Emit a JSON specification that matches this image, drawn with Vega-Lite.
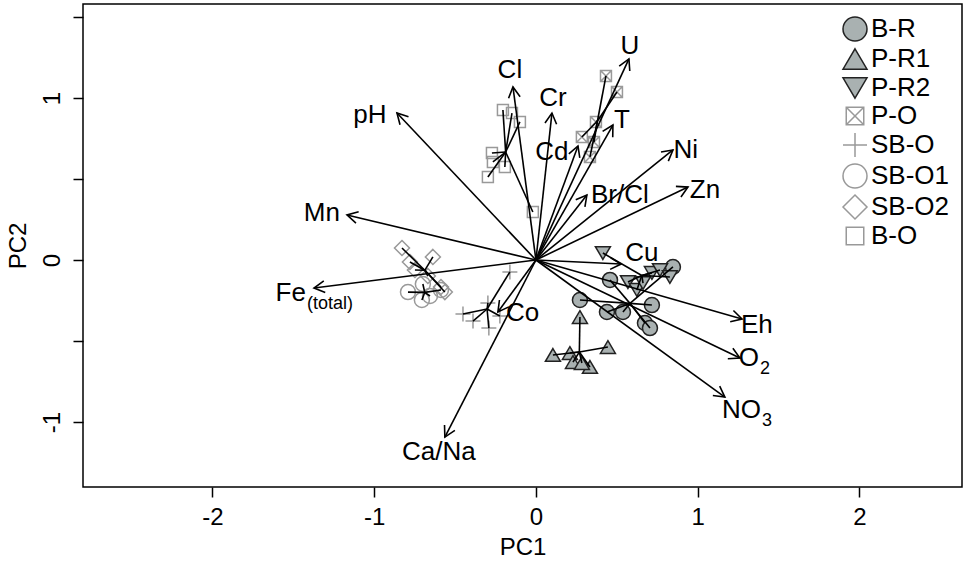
{
  "$schema": "https://vega.github.io/schema/vega-lite/v6.json",
  "width": 879,
  "height": 483,
  "autosize": {"type": "none"},
  "padding": {"left": 83, "top": 4, "right": 13, "bottom": 81},
  "background": "white",
  "config": {
    "font": "Liberation Sans",
    "view": {"stroke": "black", "strokeWidth": 1.5},
    "axis": {"domain": false, "grid": false, "ticks": true, "tickColor": "black", "tickWidth": 1.5, "tickSize": 10,
             "labelColor": "black", "labelFontSize": 24, "labelFont": "Liberation Sans", "titleColor": "black",
             "titleFontSize": 24, "titleFont": "Liberation Sans", "titleFontWeight": "normal", "labelOverlap": false},
    "legend": {"orient": "top-right", "offset": 12, "padding": 0, "labelFontSize": 26, "labelFont": "Liberation Sans",
               "labelColor": "black", "symbolSize": 576, "symbolStrokeWidth": 1.5, "rowPadding": 1, "labelOffset": 3,
               "title": null}
  },
  "datasets": {
    "samples": [
      {"group": "B-R", "x": 0.458, "y": -0.123}, {"group": "B-R", "x": 0.272, "y": -0.247},
      {"group": "B-R", "x": 0.439, "y": -0.321}, {"group": "B-R", "x": 0.538, "y": -0.321},
      {"group": "B-R", "x": 0.717, "y": -0.278}, {"group": "B-R", "x": 0.674, "y": -0.389},
      {"group": "B-R", "x": 0.705, "y": -0.420}, {"group": "B-R", "x": 0.847, "y": -0.043},
      {"group": "P-R1", "x": 0.272, "y": -0.352}, {"group": "P-R1", "x": 0.445, "y": -0.537},
      {"group": "P-R1", "x": 0.105, "y": -0.586}, {"group": "P-R1", "x": 0.210, "y": -0.574},
      {"group": "P-R1", "x": 0.229, "y": -0.630}, {"group": "P-R1", "x": 0.334, "y": -0.660},
      {"group": "P-R1", "x": 0.284, "y": -0.636},
      {"group": "P-R2", "x": 0.414, "y": 0.043}, {"group": "P-R2", "x": 0.569, "y": -0.136},
      {"group": "P-R2", "x": 0.624, "y": -0.185}, {"group": "P-R2", "x": 0.662, "y": -0.142},
      {"group": "P-R2", "x": 0.717, "y": -0.080}, {"group": "P-R2", "x": 0.767, "y": -0.062},
      {"group": "P-R2", "x": 0.828, "y": -0.105},
      {"group": "P-O", "x": 0.433, "y": 1.136}, {"group": "P-O", "x": 0.501, "y": 1.037},
      {"group": "P-O", "x": 0.371, "y": 0.852}, {"group": "P-O", "x": 0.284, "y": 0.759},
      {"group": "P-O", "x": 0.359, "y": 0.728}, {"group": "P-O", "x": 0.334, "y": 0.636},
      {"group": "SB-O", "x": -0.451, "y": -0.333}, {"group": "SB-O", "x": -0.389, "y": -0.377},
      {"group": "SB-O", "x": -0.297, "y": -0.265}, {"group": "SB-O", "x": -0.291, "y": -0.420},
      {"group": "SB-O", "x": -0.223, "y": -0.346}, {"group": "SB-O", "x": -0.161, "y": -0.074},
      {"group": "SB-O1", "x": -0.791, "y": -0.198}, {"group": "SB-O1", "x": -0.705, "y": -0.247},
      {"group": "SB-O1", "x": -0.655, "y": -0.222}, {"group": "SB-O1", "x": -0.699, "y": -0.148},
      {"group": "SB-O1", "x": -0.587, "y": -0.185},
      {"group": "SB-O2", "x": -0.828, "y": 0.074}, {"group": "SB-O2", "x": -0.779, "y": -0.012},
      {"group": "SB-O2", "x": -0.748, "y": -0.062}, {"group": "SB-O2", "x": -0.637, "y": 0.019},
      {"group": "SB-O2", "x": -0.668, "y": -0.099}, {"group": "SB-O2", "x": -0.587, "y": -0.167},
      {"group": "SB-O2", "x": -0.563, "y": -0.198},
      {"group": "B-O", "x": -0.204, "y": 0.926}, {"group": "B-O", "x": -0.148, "y": 0.907},
      {"group": "B-O", "x": -0.099, "y": 0.852}, {"group": "B-O", "x": -0.272, "y": 0.660},
      {"group": "B-O", "x": -0.266, "y": 0.605}, {"group": "B-O", "x": -0.192, "y": 0.574},
      {"group": "B-O", "x": -0.297, "y": 0.512}, {"group": "B-O", "x": -0.019, "y": 0.296}
    ],
    "vars": [
      {"var": "pH", "x": -0.859, "y": 0.907, "lx": -1.026, "ly": 0.895, "main": "pH"},
      {"var": "Mn", "x": -1.168, "y": 0.278, "lx": -1.323, "ly": 0.290, "main": "Mn"},
      {"var": "Fe(total)", "x": -1.372, "y": -0.173, "lx": -1.422, "ly": -0.204, "main": "Fe", "sub": "(total)"},
      {"var": "Cl", "x": -0.142, "y": 1.068, "lx": -0.161, "ly": 1.173, "main": "Cl"},
      {"var": "Cr", "x": 0.099, "y": 0.907, "lx": 0.105, "ly": 1.000, "main": "Cr"},
      {"var": "Cd", "x": 0.260, "y": 0.704, "lx": 0.099, "ly": 0.667, "main": "Cd"},
      {"var": "U", "x": 0.575, "y": 1.241, "lx": 0.581, "ly": 1.321, "main": "U"},
      {"var": "T", "x": 0.476, "y": 0.833, "lx": 0.532, "ly": 0.864, "main": "T"},
      {"var": "Ni", "x": 0.847, "y": 0.679, "lx": 0.927, "ly": 0.679, "main": "Ni"},
      {"var": "Zn", "x": 0.940, "y": 0.450, "lx": 1.045, "ly": 0.432, "main": "Zn"},
      {"var": "Br/Cl", "x": 0.315, "y": 0.401, "lx": 0.519, "ly": 0.401, "main": "Br/Cl"},
      {"var": "Cu", "x": 0.526, "y": -0.025, "lx": 0.655, "ly": 0.043, "main": "Cu"},
      {"var": "Eh", "x": 1.274, "y": -0.364, "lx": 1.366, "ly": -0.401, "main": "Eh"},
      {"var": "O2", "x": 1.261, "y": -0.605, "lx": 1.379, "ly": -0.605, "main": "O", "sub": "2"},
      {"var": "NO3", "x": 1.168, "y": -0.846, "lx": 1.391, "ly": -0.926, "main": "NO", "sub": "3"},
      {"var": "Ca/Na", "x": -0.563, "y": -1.093, "lx": -0.600, "ly": -1.183, "main": "Ca/Na"},
      {"var": "Co", "x": -0.235, "y": -0.321, "lx": -0.083, "ly": -0.329, "main": "Co"}
    ]
  },
  "layer": [
    {
      "mark": {"type": "rule", "stroke": "black", "strokeWidth": 1.6, "strokeDash": [1.6, 6]},
      "encoding": {"y": {"datum": 0, "type": "quantitative", "scale": {"domain": [-1.401, 1.58], "nice": false, "zero": false}}}
    },
    {
      "mark": {"type": "rule", "stroke": "black", "strokeWidth": 1.6, "strokeDash": [1.6, 6]},
      "encoding": {"x": {"datum": 0, "type": "quantitative", "scale": {"domain": [-2.8, 2.634], "nice": false, "zero": false}}}
    },
    {
      "data": {"name": "samples"},
      "mark": {"type": "point", "size": 225, "strokeWidth": 1.5, "opacity": 1},
      "encoding": {
        "x": {"field": "x", "type": "quantitative", "scale": {"domain": [-2.8, 2.634], "nice": false, "zero": false},
              "axis": {"values": [-2, -1, 0, 1, 2], "title": "PC1", "labelPadding": 8, "titlePadding": 6,
                       "labelExpr": "(datum.value < 0 ? '-' : '') + abs(datum.value)"}},
        "y": {"field": "y", "type": "quantitative", "scale": {"domain": [-1.401, 1.58], "nice": false, "zero": false},
              "axis": {"values": [-1, -0.5, 0, 0.5, 1, 1.5], "title": "PC2", "labelAngle": -90, "labelAlign": "center",
                       "labelBaseline": "bottom", "labelPadding": 9, "titlePadding": 10,
                       "labelExpr": "datum.value % 1 === 0 ? (datum.value < 0 ? '-' : '') + abs(datum.value) : ''"}},
        "shape": {"field": "group", "type": "nominal",
                  "scale": {"domain": ["B-R", "P-R1", "P-R2", "P-O", "SB-O", "SB-O1", "SB-O2", "B-O"],
                            "range": ["circle",
                                      "M0,-0.85L1,0.85L-1,0.85Z",
                                      "M0,0.85L1,-0.85L-1,-0.85Z",
                                      "M-0.73,-0.73H0.73V0.73H-0.73ZM-0.73,-0.73L0.73,0.73M0.73,-0.73L-0.73,0.73",
                                      "M-1,0H1M0,-1V1",
                                      "circle",
                                      "M0,-1L1,0L0,1L-1,0Z",
                                      "M-0.73,-0.73H0.73V0.73H-0.73Z"]}},
        "fill": {"field": "group", "type": "nominal",
                 "scale": {"domain": ["B-R", "P-R1", "P-R2", "P-O", "SB-O", "SB-O1", "SB-O2", "B-O"],
                           "range": ["#a9b1b1", "#a9b1b1", "#a9b1b1", "transparent", "transparent", "transparent", "transparent", "transparent"]},
                 "legend": {"encode": {"symbols": {"update": {"fill": {"signal": "indexof(['B-R','P-R1','P-R2'], datum.value) >= 0 ? '#6f7979' : 'transparent'"}}}}}},
        "stroke": {"field": "group", "type": "nominal",
                   "scale": {"domain": ["B-R", "P-R1", "P-R2", "P-O", "SB-O", "SB-O1", "SB-O2", "B-O"],
                             "range": ["#222222", "#222222", "#222222", "#999999", "#999999", "#999999", "#999999", "#999999"]}}
      }
    },
    {
      "data": {"name": "samples"},
      "transform": [{"joinaggregate": [{"op": "mean", "field": "x", "as": "cx"}, {"op": "mean", "field": "y", "as": "cy"}], "groupby": ["group"]}],
      "mark": {"type": "rule", "stroke": "black", "strokeWidth": 1.6},
      "encoding": {
        "x": {"field": "x", "type": "quantitative"},
        "y": {"field": "y", "type": "quantitative"},
        "x2": {"field": "cx"},
        "y2": {"field": "cy"}
      }
    },
    {
      "data": {"name": "vars"},
      "mark": {"type": "rule", "stroke": "black", "strokeWidth": 1.6},
      "encoding": {
        "x": {"field": "x", "type": "quantitative"},
        "y": {"field": "y", "type": "quantitative"},
        "x2": {"datum": 0},
        "y2": {"datum": 0}
      }
    },
    {
      "data": {"name": "vars"},
      "transform": [{"calculate": "atan2(datum.x * 161.75, datum.y * 162) * 180 / PI", "as": "ang"}],
      "mark": {"type": "point", "shape": "M-0.55,1L0,0L0.55,1", "size": 450, "filled": false, "stroke": "black", "strokeWidth": 1.6, "opacity": 1},
      "encoding": {
        "x": {"field": "x", "type": "quantitative"},
        "y": {"field": "y", "type": "quantitative"},
        "angle": {"field": "ang", "type": "quantitative", "scale": null}
      }
    },
    {
      "data": {"name": "vars"},
      "transform": [{"filter": "!datum.sub"}],
      "mark": {"type": "text", "fontSize": 26, "font": "Liberation Sans", "align": "center", "baseline": "middle", "color": "black"},
      "encoding": {
        "x": {"field": "lx", "type": "quantitative"},
        "y": {"field": "ly", "type": "quantitative"},
        "text": {"field": "main"}
      }
    },
    {
      "data": {"name": "vars"},
      "transform": [{"filter": "datum.sub"}],
      "mark": {"type": "text", "fontSize": 26, "font": "Liberation Sans", "align": "right", "baseline": "middle", "color": "black"},
      "encoding": {
        "x": {"field": "lx", "type": "quantitative"},
        "y": {"field": "ly", "type": "quantitative"},
        "text": {"field": "main"}
      }
    },
    {
      "data": {"name": "vars"},
      "transform": [{"filter": "datum.sub"}],
      "mark": {"type": "text", "fontSize": 18, "font": "Liberation Sans", "align": "left", "baseline": "middle", "dx": 1, "dy": 11, "color": "black"},
      "encoding": {
        "x": {"field": "lx", "type": "quantitative"},
        "y": {"field": "ly", "type": "quantitative"},
        "text": {"field": "sub"}
      }
    }
  ]
}
